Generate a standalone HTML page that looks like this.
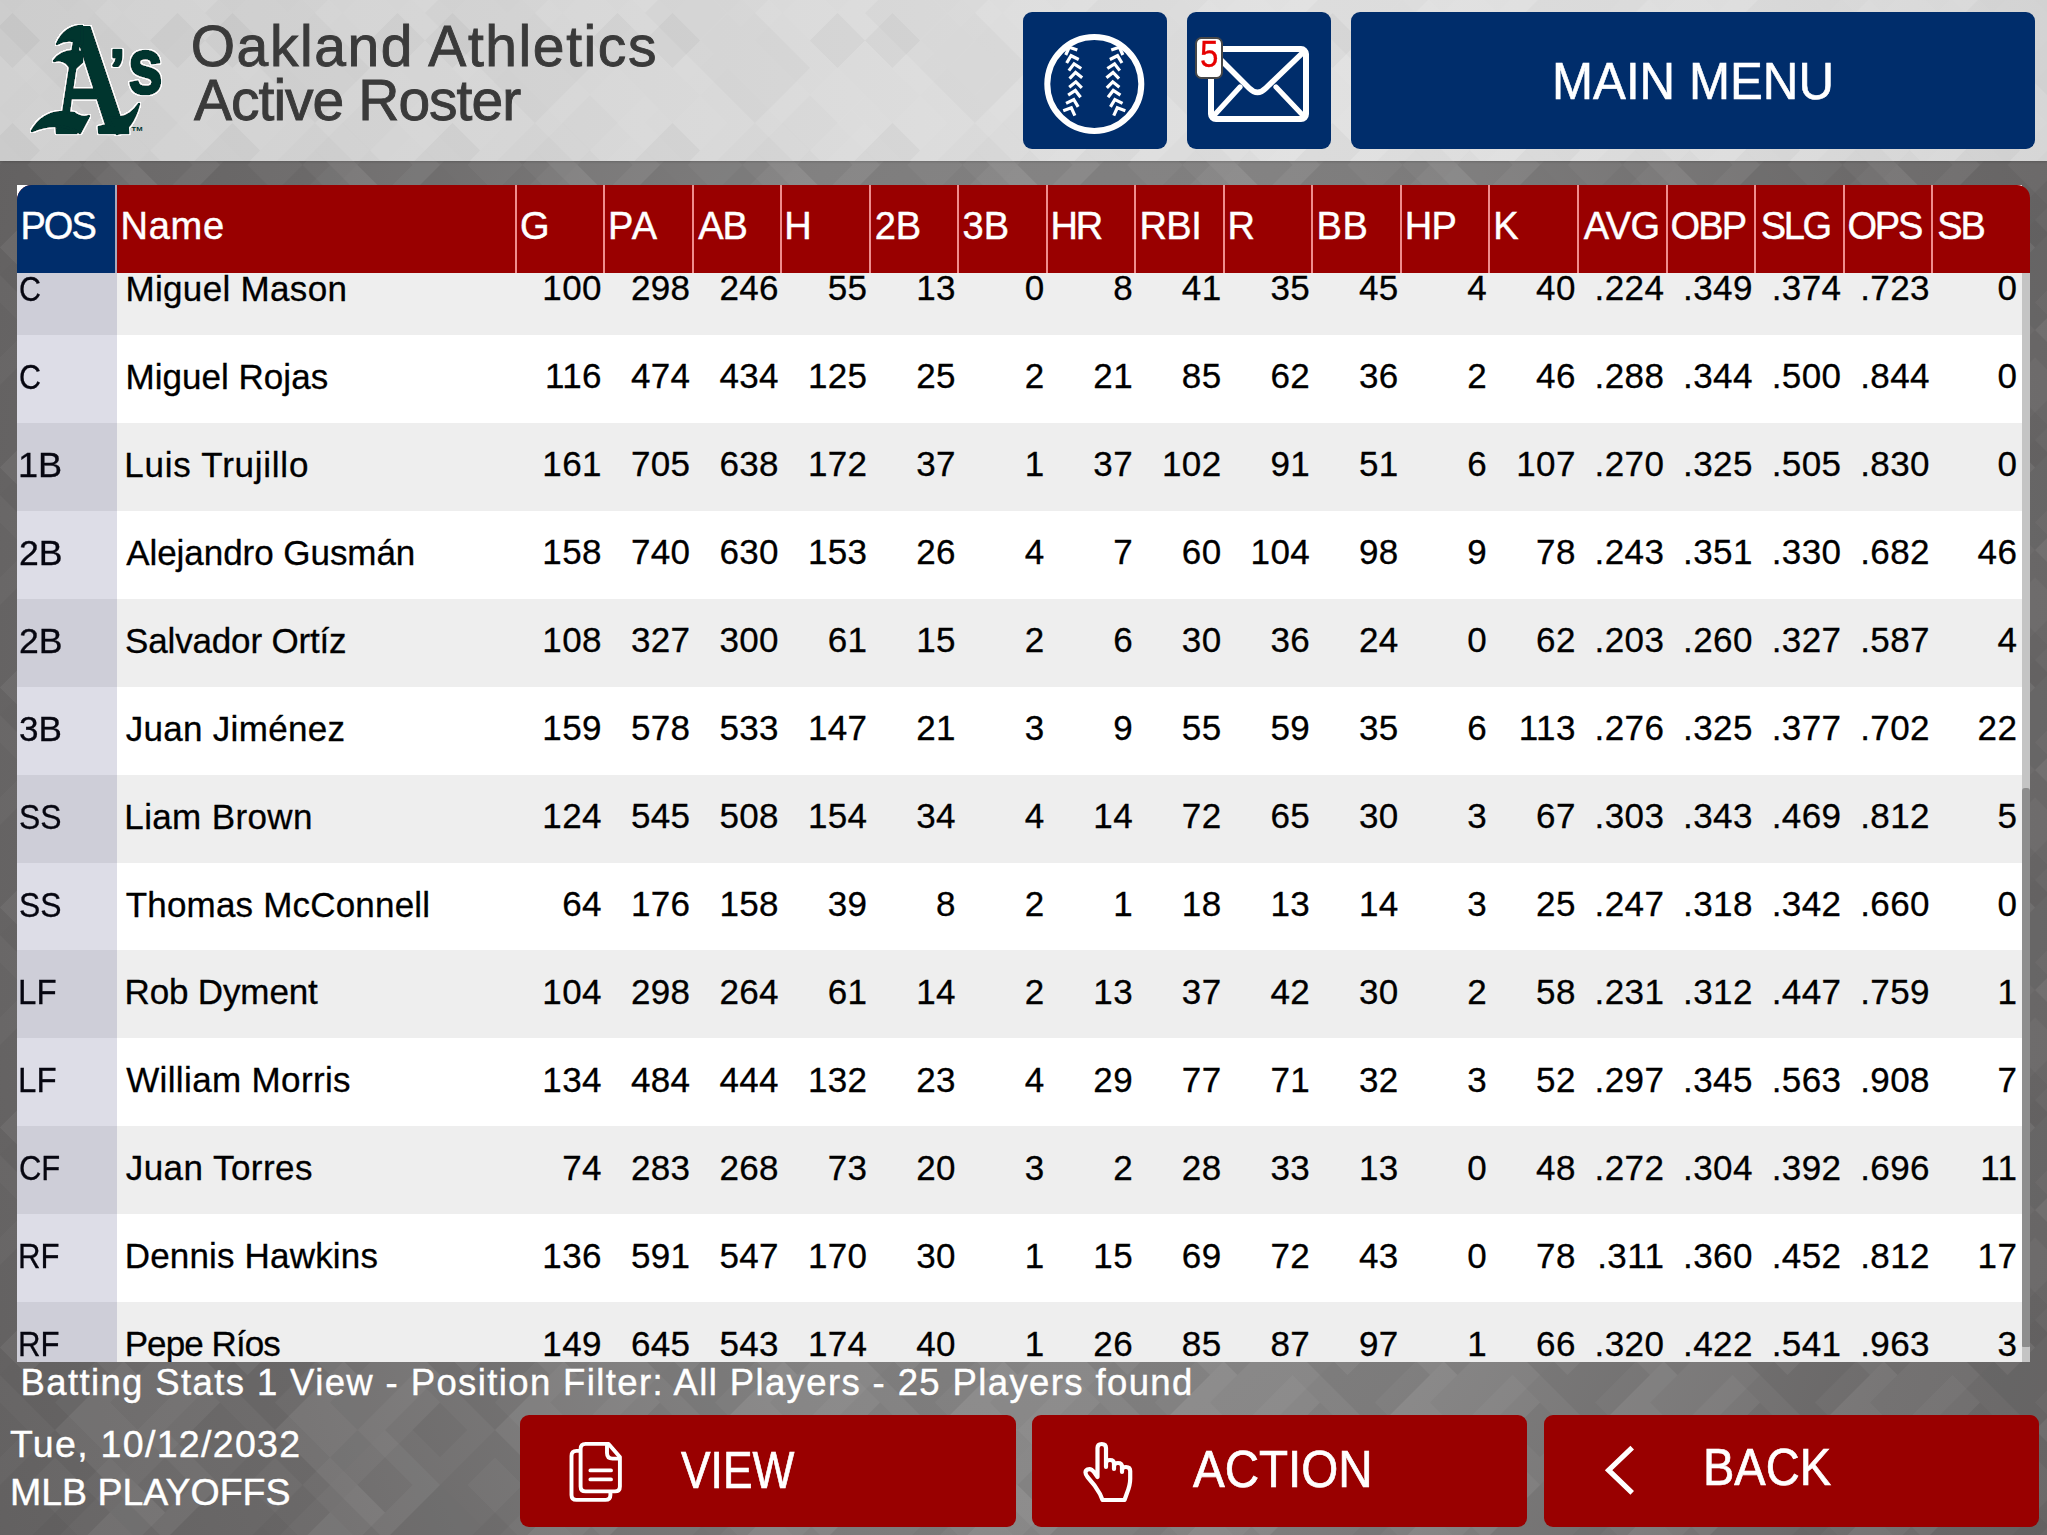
<!DOCTYPE html>
<html lang="en">
<head>
<meta charset="utf-8">
<title>Oakland Athletics - Active Roster</title>
<style>
html,body{margin:0;padding:0}
body{width:2047px;height:1535px;position:relative;overflow:hidden;
 font-family:"Liberation Sans",sans-serif;
 background:#727272;}
.t{position:absolute;white-space:nowrap;display:block}
.bg{position:absolute;left:0;top:0;width:2047px;height:1535px;
 background:
  radial-gradient(ellipse 1250px 2000px at 1090px 800px,#8e8d8d 0%,#838282 38%,#6f6d6d 70%,#656363 100%);}
.topbar{position:absolute;left:0;top:0;width:2047px;height:161px;
 background:
  linear-gradient(90deg,#d0d0d0 0%,#d6d6d6 25%,#dcdcdc 45%,#e1e1e1 64%,#dddddd 85%,#d6d6d6 100%);
 box-shadow:0 1px 2px rgba(0,0,0,0.18);}
.logo{position:absolute;left:0;top:0}
.pat{position:absolute;left:0;top:0}
.title{color:#3a3a3a;-webkit-text-stroke:0.9px #3a3a3a}
.nbtn{position:absolute;top:12px;height:136.5px;background:#002d6b;border-radius:9px;color:#fff;-webkit-text-stroke:0.6px #fff}
.nbtn svg{position:absolute;left:0;top:0}
.badge{position:absolute;left:8.4px;top:24.6px;width:27.4px;height:42.8px;background:#fff;border:2.2px solid #484848;border-radius:6.5px;color:#e60000;box-sizing:border-box;-webkit-text-stroke:0.3px #e60000}
.badge span{position:absolute;left:2.6px;top:-1.6px;font-size:36px;line-height:36px;transform:scaleX(0.92);transform-origin:0 0}

.tbl{position:absolute;left:17px;top:185px;width:2013px;height:1176.5px}
.tblbg{position:absolute;left:0;top:0;width:2005px;height:1176.5px;background:#fff}
.tbody{position:absolute;left:0;top:87.5px;width:2005px;height:1089px;background:#fff;overflow:hidden}
.r{position:absolute;left:0;width:2005px;height:88px;background:#fff;font-size:35px;line-height:88px;color:#000;white-space:nowrap;-webkit-text-stroke:0.3px #000}
.r.odd{background:#eeeeee}
.r .s{position:absolute;top:-2.55px;height:88px;width:90px;text-align:right;letter-spacing:0.4px;margin-left:0.4px}
.poscol{position:absolute;left:0;top:0;width:99.5px;height:1100px;background:rgba(40,40,100,0.155)}
.sbtrack{position:absolute;left:2004.7px;top:87.5px;width:8.3px;height:1089px;background:#c4c4c4}
.sbthumb{position:absolute;left:2005.3px;top:602.6px;width:7.7px;height:559.5px;background:#8d8d8d;border-radius:3px 3px 1px 1px}
.thead{position:absolute;left:0;top:0;width:2013px;height:87.5px;background:#990000;border-radius:15px 13px 0 0;overflow:hidden;color:#fff;-webkit-text-stroke:0.45px #fff}
.thead:before{content:"";}
.hpos{position:absolute;left:0;top:0;width:99px;height:88px;background:#002d6b}
.hsep{position:absolute;top:0;width:2px;height:88px;background:#ee8d8d}
.white{color:#fff;-webkit-text-stroke:0.4px #fff}
.hsep.first{background:#a9a9bb}
.rbtn{position:absolute;top:1415px;width:495.5px;height:111.5px;background:#990000;border-radius:9px;color:#fff;-webkit-text-stroke:0.7px #fff}
.rbtn svg{position:absolute;left:0;top:0}

</style>
</head>
<body>
<div class="bg"></div>
<div class="topbar"></div>
<svg class="pat" width="2047" height="1535"><defs><pattern id="dm" width="220" height="220" patternUnits="userSpaceOnUse"><path d="M0.0 82.5L27.5 110.0L0.0 137.5L-27.5 110.0Z" fill="#000" fill-opacity="0.030"/><path d="M220.0 82.5L247.5 110.0L220.0 137.5L192.5 110.0Z" fill="#000" fill-opacity="0.030"/><path d="M27.5 0.0L55.0 27.5L27.5 55.0L0.0 27.5Z" fill="#fff" fill-opacity="0.060"/><path d="M55.0 -27.5L82.5 0.0L55.0 27.5L27.5 0.0Z" fill="#000" fill-opacity="0.030"/><path d="M55.0 192.5L82.5 220.0L55.0 247.5L27.5 220.0Z" fill="#000" fill-opacity="0.030"/><path d="M55.0 137.5L82.5 165.0L55.0 192.5L27.5 165.0Z" fill="#fff" fill-opacity="0.030"/><path d="M82.5 55.0L110.0 82.5L82.5 110.0L55.0 82.5Z" fill="#fff" fill-opacity="0.030"/><path d="M110.0 -27.5L137.5 0.0L110.0 27.5L82.5 0.0Z" fill="#fff" fill-opacity="0.060"/><path d="M110.0 192.5L137.5 220.0L110.0 247.5L82.5 220.0Z" fill="#fff" fill-opacity="0.060"/><path d="M110.0 27.5L137.5 55.0L110.0 82.5L82.5 55.0Z" fill="#fff" fill-opacity="0.030"/><path d="M110.0 82.5L137.5 110.0L110.0 137.5L82.5 110.0Z" fill="#fff" fill-opacity="0.030"/><path d="M110.0 137.5L137.5 165.0L110.0 192.5L82.5 165.0Z" fill="#fff" fill-opacity="0.030"/><path d="M137.5 0.0L165.0 27.5L137.5 55.0L110.0 27.5Z" fill="#000" fill-opacity="0.045"/><path d="M137.5 165.0L165.0 192.5L137.5 220.0L110.0 192.5Z" fill="#fff" fill-opacity="0.045"/><path d="M165.0 82.5L192.5 110.0L165.0 137.5L137.5 110.0Z" fill="#fff" fill-opacity="0.030"/><path d="M165.0 137.5L192.5 165.0L165.0 192.5L137.5 165.0Z" fill="#000" fill-opacity="0.045"/><path d="M192.5 55.0L220.0 82.5L192.5 110.0L165.0 82.5Z" fill="#fff" fill-opacity="0.030"/><path d="M55 0L110 55L55 110L0 55Z" fill="#000" fill-opacity="0.050"/><path d="M165 110L220 165L165 220L110 165Z" fill="#fff" fill-opacity="0.040"/><path d="M165 0L220 55L165 110L110 55Z" fill="#fff" fill-opacity="0.030"/><path d="M55 110L110 165L55 220L0 165Z" fill="#000" fill-opacity="0.035"/><path d="M110 55L165 110L110 165L55 110Z" fill="#fff" fill-opacity="0.030"/><path d="M0 -55L55 0L0 55L-55 0Z" fill="#000" fill-opacity="0.040"/><path d="M220 -55L275 0L220 55L165 0Z" fill="#000" fill-opacity="0.040"/><path d="M0 165L55 220L0 275L-55 220Z" fill="#000" fill-opacity="0.040"/><path d="M220 165L275 220L220 275L165 220Z" fill="#000" fill-opacity="0.040"/></pattern><pattern id="dm2" width="220" height="220" patternUnits="userSpaceOnUse" patternTransform="translate(40 13)"><path d="M0.0 -27.5L27.5 0.0L0.0 27.5L-27.5 0.0Z" fill="#fff" fill-opacity="0.020"/><path d="M0.0 192.5L27.5 220.0L0.0 247.5L-27.5 220.0Z" fill="#fff" fill-opacity="0.020"/><path d="M220.0 -27.5L247.5 0.0L220.0 27.5L192.5 0.0Z" fill="#fff" fill-opacity="0.020"/><path d="M220.0 192.5L247.5 220.0L220.0 247.5L192.5 220.0Z" fill="#fff" fill-opacity="0.020"/><path d="M0.0 27.5L27.5 55.0L0.0 82.5L-27.5 55.0Z" fill="#fff" fill-opacity="0.027"/><path d="M220.0 27.5L247.5 55.0L220.0 82.5L192.5 55.0Z" fill="#fff" fill-opacity="0.027"/><path d="M0.0 82.5L27.5 110.0L0.0 137.5L-27.5 110.0Z" fill="#fff" fill-opacity="0.020"/><path d="M220.0 82.5L247.5 110.0L220.0 137.5L192.5 110.0Z" fill="#fff" fill-opacity="0.020"/><path d="M27.5 0.0L55.0 27.5L27.5 55.0L0.0 27.5Z" fill="#fff" fill-opacity="0.020"/><path d="M27.5 165.0L55.0 192.5L27.5 220.0L0.0 192.5Z" fill="#fff" fill-opacity="0.013"/><path d="M55.0 -27.5L82.5 0.0L55.0 27.5L27.5 0.0Z" fill="#fff" fill-opacity="0.027"/><path d="M55.0 192.5L82.5 220.0L55.0 247.5L27.5 220.0Z" fill="#fff" fill-opacity="0.027"/><path d="M55.0 27.5L82.5 55.0L55.0 82.5L27.5 55.0Z" fill="#fff" fill-opacity="0.020"/><path d="M55.0 137.5L82.5 165.0L55.0 192.5L27.5 165.0Z" fill="#000" fill-opacity="0.013"/><path d="M82.5 55.0L110.0 82.5L82.5 110.0L55.0 82.5Z" fill="#fff" fill-opacity="0.020"/><path d="M82.5 110.0L110.0 137.5L82.5 165.0L55.0 137.5Z" fill="#000" fill-opacity="0.013"/><path d="M110.0 -27.5L137.5 0.0L110.0 27.5L82.5 0.0Z" fill="#fff" fill-opacity="0.020"/><path d="M110.0 192.5L137.5 220.0L110.0 247.5L82.5 220.0Z" fill="#fff" fill-opacity="0.020"/><path d="M110.0 82.5L137.5 110.0L110.0 137.5L82.5 110.0Z" fill="#000" fill-opacity="0.013"/><path d="M110.0 137.5L137.5 165.0L110.0 192.5L82.5 165.0Z" fill="#000" fill-opacity="0.020"/><path d="M137.5 0.0L165.0 27.5L137.5 55.0L110.0 27.5Z" fill="#000" fill-opacity="0.027"/><path d="M137.5 55.0L165.0 82.5L137.5 110.0L110.0 82.5Z" fill="#fff" fill-opacity="0.013"/><path d="M137.5 165.0L165.0 192.5L137.5 220.0L110.0 192.5Z" fill="#fff" fill-opacity="0.013"/><path d="M165.0 -27.5L192.5 0.0L165.0 27.5L137.5 0.0Z" fill="#fff" fill-opacity="0.020"/><path d="M165.0 192.5L192.5 220.0L165.0 247.5L137.5 220.0Z" fill="#fff" fill-opacity="0.020"/><path d="M165.0 82.5L192.5 110.0L165.0 137.5L137.5 110.0Z" fill="#fff" fill-opacity="0.027"/><path d="M165.0 137.5L192.5 165.0L165.0 192.5L137.5 165.0Z" fill="#000" fill-opacity="0.027"/><path d="M192.5 0.0L220.0 27.5L192.5 55.0L165.0 27.5Z" fill="#000" fill-opacity="0.027"/><path d="M192.5 110.0L220.0 137.5L192.5 165.0L165.0 137.5Z" fill="#000" fill-opacity="0.027"/><path d="M55 0L110 55L55 110L0 55Z" fill="#000" fill-opacity="0.023"/><path d="M165 110L220 165L165 220L110 165Z" fill="#fff" fill-opacity="0.018"/><path d="M165 0L220 55L165 110L110 55Z" fill="#fff" fill-opacity="0.013"/><path d="M55 110L110 165L55 220L0 165Z" fill="#000" fill-opacity="0.016"/><path d="M110 55L165 110L110 165L55 110Z" fill="#fff" fill-opacity="0.013"/><path d="M0 -55L55 0L0 55L-55 0Z" fill="#000" fill-opacity="0.018"/><path d="M220 -55L275 0L220 55L165 0Z" fill="#000" fill-opacity="0.018"/><path d="M0 165L55 220L0 275L-55 220Z" fill="#000" fill-opacity="0.018"/><path d="M220 165L275 220L220 275L165 220Z" fill="#000" fill-opacity="0.018"/></pattern></defs><rect x="0" y="161" width="2047" height="1374" fill="url(#dm)"/><rect x="0" y="0" width="2047" height="161" fill="url(#dm2)"/></svg>
<svg class="logo" width="190" height="160" viewBox="0 0 190 160">
 <filter id="wo" x="-10%" y="-10%" width="120%" height="120%">
  <feMorphology in="SourceAlpha" operator="dilate" radius="1.3" result="d"/>
  <feGaussianBlur in="d" stdDeviation="0.45" result="db"/>
  <feComponentTransfer in="db" result="dc"><feFuncA type="linear" slope="3" intercept="-0.6"/></feComponentTransfer>
  <feFlood flood-color="#fff"/>
  <feComposite in2="dc" operator="in" result="w"/>
  <feMerge><feMergeNode in="w"/><feMergeNode in="SourceGraphic"/></feMerge>
 </filter>
 <g filter="url(#wo)" fill="#00342e" stroke="#00342e" stroke-width="2.6" stroke-linejoin="round">
   <text x="0" y="0" font-family="Liberation Serif, serif" font-weight="bold" font-size="160" transform="translate(55.5 132.5) skewX(5.2) scale(0.64 1)">A</text>
   <text x="109.5" y="88" font-family="Liberation Sans, sans-serif" font-weight="bold" font-size="56">’</text>
   <text x="128" y="93.2" font-family="Liberation Sans, sans-serif" font-weight="bold" font-size="78" transform="translate(128 0) scale(0.8 1) translate(-128 0)">s</text>
   <path d="M82 26 Q65 26 57 44 Q69 37 82 44 Z"/>
   <path d="M82 52 Q63 48 54 61 Q66 57 72 71 L82 62 Z"/>
   <path d="M32 131 Q42 113 62 112 L74 113 Q82 119 89 116 L80 133 Q58 120 32 131 Z"/>
   <path d="M108 118 L117 134 Q132 130 139 104 Q131 116 121 117 Z"/>
  </g>
 <text x="131.5" y="131.3" font-family="Liberation Sans, sans-serif" font-weight="bold" font-size="5.2" fill="#00342e" textLength="11" lengthAdjust="spacingAndGlyphs">TM</text>
</svg>
<div class="title"><span class="t " style="left:190.7px;top:18.4px;font-size:57px;line-height:57px;letter-spacing:1.58px;">Oakland Athletics</span><span class="t " style="left:194.0px;top:71.6px;font-size:57px;line-height:57px;letter-spacing:-0.98px;">Active Roster</span></div>
<div class="nbtn" style="left:1023px;width:144px">
 <svg width="144" height="137" viewBox="0 0 144 137">
  <circle cx="71.3" cy="72" r="47" fill="none" stroke="#fff" stroke-width="6"/>
  <g fill="none" stroke="#fff" stroke-width="3.2" stroke-linecap="butt" stroke-linejoin="miter"><path d="M-6.3 3.2 L0 -2.6 L6.3 3.2" transform="translate(47.3 37.6) rotate(-22.8)"/><path d="M-6.3 3.2 L0 -2.6 L6.3 3.2" transform="translate(48.8 46.2) rotate(-16.2)"/><path d="M-6.3 3.2 L0 -2.6 L6.3 3.2" transform="translate(51.5 54.4) rotate(-9.8)"/><path d="M-6.3 3.2 L0 -2.6 L6.3 3.2" transform="translate(52.7 63.0) rotate(-3.2)"/><path d="M-6.3 3.2 L0 -2.6 L6.3 3.2" transform="translate(52.7 72.4) rotate(3.2)"/><path d="M-6.3 3.2 L0 -2.6 L6.3 3.2" transform="translate(51.9 81.0) rotate(9.8)"/><path d="M-6.3 3.2 L0 -2.6 L6.3 3.2" transform="translate(50.0 90.0) rotate(16.2)"/><path d="M-6.3 3.2 L0 -2.6 L6.3 3.2" transform="translate(47.3 98.2) rotate(22.8)"/><path d="M-6.3 3.2 L0 -2.6 L6.3 3.2" transform="translate(95.3 37.6) rotate(22.8)"/><path d="M-6.3 3.2 L0 -2.6 L6.3 3.2" transform="translate(93.8 46.2) rotate(16.2)"/><path d="M-6.3 3.2 L0 -2.6 L6.3 3.2" transform="translate(91.1 54.4) rotate(9.8)"/><path d="M-6.3 3.2 L0 -2.6 L6.3 3.2" transform="translate(89.9 63.0) rotate(3.2)"/><path d="M-6.3 3.2 L0 -2.6 L6.3 3.2" transform="translate(89.9 72.4) rotate(-3.2)"/><path d="M-6.3 3.2 L0 -2.6 L6.3 3.2" transform="translate(90.7 81.0) rotate(-9.8)"/><path d="M-6.3 3.2 L0 -2.6 L6.3 3.2" transform="translate(92.6 90.0) rotate(-16.2)"/><path d="M-6.3 3.2 L0 -2.6 L6.3 3.2" transform="translate(95.3 98.2) rotate(-22.8)"/></g>
 </svg>
</div>
<div class="nbtn" style="left:1187px;width:144px">
 <svg width="144" height="137" viewBox="0 0 144 137">
  <g fill="none" stroke="#fff" stroke-width="6" stroke-linejoin="round" stroke-linecap="round">
   <rect x="24" y="37.1" width="95" height="70" rx="5"/>
   <path d="M25.5 39.5 L62 76 Q70.5 84.5 79 76 L117 39.5" stroke-width="5.6"/>
   <path d="M26.5 104 L53 75 M116.5 104 L89 75" stroke-width="5.2"/>
  </g>
 </svg>
 <div class="badge"><span>5</span></div>
</div>
<div class="nbtn" style="left:1351px;width:684px"><span class="t " style="left:200.8px;top:42.8px;font-size:52px;line-height:52px;transform:scaleX(0.9477);transform-origin:0 0;">MAIN MENU</span></div>
<div class="tbl">
<div class="tblbg"></div>
<div class="tbody">
<div class="r odd" style="top:-25.5px"><span class="t " style="left:2.1px;top:24.0px;font-size:35px;line-height:35px;transform:scaleX(0.8697);transform-origin:0 0;">C</span><span class="t " style="left:108.5px;top:24.0px;font-size:35px;line-height:35px;letter-spacing:0.32px;">Miguel Mason</span><span class="s" style="left:494.5px">100</span><span class="s" style="left:583.1px">298</span><span class="s" style="left:671.6px">246</span><span class="s" style="left:760.1px">55</span><span class="s" style="left:848.6px">13</span><span class="s" style="left:937.2px">0</span><span class="s" style="left:1025.7px">8</span><span class="s" style="left:1114.2px">41</span><span class="s" style="left:1202.8px">35</span><span class="s" style="left:1291.3px">45</span><span class="s" style="left:1379.8px">4</span><span class="s" style="left:1468.4px">40</span><span class="s" style="left:1556.9px">.224</span><span class="s" style="left:1645.4px">.349</span><span class="s" style="left:1734.0px">.374</span><span class="s" style="left:1822.5px">.723</span><span class="s" style="left:1909.9px">0</span></div>
<div class="r" style="top:62.4px"><span class="t " style="left:2.1px;top:24.0px;font-size:35px;line-height:35px;transform:scaleX(0.8697);transform-origin:0 0;">C</span><span class="t " style="left:108.5px;top:24.0px;font-size:35px;line-height:35px;letter-spacing:0.03px;">Miguel Rojas</span><span class="s" style="left:494.5px">116</span><span class="s" style="left:583.1px">474</span><span class="s" style="left:671.6px">434</span><span class="s" style="left:760.1px">125</span><span class="s" style="left:848.6px">25</span><span class="s" style="left:937.2px">2</span><span class="s" style="left:1025.7px">21</span><span class="s" style="left:1114.2px">85</span><span class="s" style="left:1202.8px">62</span><span class="s" style="left:1291.3px">36</span><span class="s" style="left:1379.8px">2</span><span class="s" style="left:1468.4px">46</span><span class="s" style="left:1556.9px">.288</span><span class="s" style="left:1645.4px">.344</span><span class="s" style="left:1734.0px">.500</span><span class="s" style="left:1822.5px">.844</span><span class="s" style="left:1909.9px">0</span></div>
<div class="r odd" style="top:150.3px"><span class="t " style="left:1.2px;top:24.0px;font-size:35px;line-height:35px;transform:scaleX(1.0319);transform-origin:0 0;">1B</span><span class="t " style="left:107.3px;top:24.0px;font-size:35px;line-height:35px;letter-spacing:0.75px;">Luis Trujillo</span><span class="s" style="left:494.5px">161</span><span class="s" style="left:583.1px">705</span><span class="s" style="left:671.6px">638</span><span class="s" style="left:760.1px">172</span><span class="s" style="left:848.6px">37</span><span class="s" style="left:937.2px">1</span><span class="s" style="left:1025.7px">37</span><span class="s" style="left:1114.2px">102</span><span class="s" style="left:1202.8px">91</span><span class="s" style="left:1291.3px">51</span><span class="s" style="left:1379.8px">6</span><span class="s" style="left:1468.4px">107</span><span class="s" style="left:1556.9px">.270</span><span class="s" style="left:1645.4px">.325</span><span class="s" style="left:1734.0px">.505</span><span class="s" style="left:1822.5px">.830</span><span class="s" style="left:1909.9px">0</span></div>
<div class="r" style="top:238.3px"><span class="t " style="left:1.8px;top:24.0px;font-size:35px;line-height:35px;transform:scaleX(1.0176);transform-origin:0 0;">2B</span><span class="t " style="left:109.2px;top:24.0px;font-size:35px;line-height:35px;letter-spacing:-0.05px;">Alejandro Gusmán</span><span class="s" style="left:494.5px">158</span><span class="s" style="left:583.1px">740</span><span class="s" style="left:671.6px">630</span><span class="s" style="left:760.1px">153</span><span class="s" style="left:848.6px">26</span><span class="s" style="left:937.2px">4</span><span class="s" style="left:1025.7px">7</span><span class="s" style="left:1114.2px">60</span><span class="s" style="left:1202.8px">104</span><span class="s" style="left:1291.3px">98</span><span class="s" style="left:1379.8px">9</span><span class="s" style="left:1468.4px">78</span><span class="s" style="left:1556.9px">.243</span><span class="s" style="left:1645.4px">.351</span><span class="s" style="left:1734.0px">.330</span><span class="s" style="left:1822.5px">.682</span><span class="s" style="left:1909.9px">46</span></div>
<div class="r odd" style="top:326.2px"><span class="t " style="left:1.8px;top:24.0px;font-size:35px;line-height:35px;transform:scaleX(1.0176);transform-origin:0 0;">2B</span><span class="t " style="left:108.1px;top:24.0px;font-size:35px;line-height:35px;letter-spacing:-0.17px;">Salvador Ortíz</span><span class="s" style="left:494.5px">108</span><span class="s" style="left:583.1px">327</span><span class="s" style="left:671.6px">300</span><span class="s" style="left:760.1px">61</span><span class="s" style="left:848.6px">15</span><span class="s" style="left:937.2px">2</span><span class="s" style="left:1025.7px">6</span><span class="s" style="left:1114.2px">30</span><span class="s" style="left:1202.8px">36</span><span class="s" style="left:1291.3px">24</span><span class="s" style="left:1379.8px">0</span><span class="s" style="left:1468.4px">62</span><span class="s" style="left:1556.9px">.203</span><span class="s" style="left:1645.4px">.260</span><span class="s" style="left:1734.0px">.327</span><span class="s" style="left:1822.5px">.587</span><span class="s" style="left:1909.9px">4</span></div>
<div class="r" style="top:414.1px"><span class="t " style="left:2.4px;top:24.0px;font-size:35px;line-height:35px;transform:scaleX(1.0038);transform-origin:0 0;">3B</span><span class="t " style="left:108.7px;top:24.0px;font-size:35px;line-height:35px;letter-spacing:0.30px;">Juan Jiménez</span><span class="s" style="left:494.5px">159</span><span class="s" style="left:583.1px">578</span><span class="s" style="left:671.6px">533</span><span class="s" style="left:760.1px">147</span><span class="s" style="left:848.6px">21</span><span class="s" style="left:937.2px">3</span><span class="s" style="left:1025.7px">9</span><span class="s" style="left:1114.2px">55</span><span class="s" style="left:1202.8px">59</span><span class="s" style="left:1291.3px">35</span><span class="s" style="left:1379.8px">6</span><span class="s" style="left:1468.4px">113</span><span class="s" style="left:1556.9px">.276</span><span class="s" style="left:1645.4px">.325</span><span class="s" style="left:1734.0px">.377</span><span class="s" style="left:1822.5px">.702</span><span class="s" style="left:1909.9px">22</span></div>
<div class="r odd" style="top:502.1px"><span class="t " style="left:2.4px;top:24.0px;font-size:35px;line-height:35px;transform:scaleX(0.9110);transform-origin:0 0;">SS</span><span class="t " style="left:107.3px;top:24.0px;font-size:35px;line-height:35px;letter-spacing:0.37px;">Liam Brown</span><span class="s" style="left:494.5px">124</span><span class="s" style="left:583.1px">545</span><span class="s" style="left:671.6px">508</span><span class="s" style="left:760.1px">154</span><span class="s" style="left:848.6px">34</span><span class="s" style="left:937.2px">4</span><span class="s" style="left:1025.7px">14</span><span class="s" style="left:1114.2px">72</span><span class="s" style="left:1202.8px">65</span><span class="s" style="left:1291.3px">30</span><span class="s" style="left:1379.8px">3</span><span class="s" style="left:1468.4px">67</span><span class="s" style="left:1556.9px">.303</span><span class="s" style="left:1645.4px">.343</span><span class="s" style="left:1734.0px">.469</span><span class="s" style="left:1822.5px">.812</span><span class="s" style="left:1909.9px">5</span></div>
<div class="r" style="top:590.0px"><span class="t " style="left:2.4px;top:24.0px;font-size:35px;line-height:35px;transform:scaleX(0.9110);transform-origin:0 0;">SS</span><span class="t " style="left:108.7px;top:24.0px;font-size:35px;line-height:35px;letter-spacing:0.19px;">Thomas McConnell</span><span class="s" style="left:494.5px">64</span><span class="s" style="left:583.1px">176</span><span class="s" style="left:671.6px">158</span><span class="s" style="left:760.1px">39</span><span class="s" style="left:848.6px">8</span><span class="s" style="left:937.2px">2</span><span class="s" style="left:1025.7px">1</span><span class="s" style="left:1114.2px">18</span><span class="s" style="left:1202.8px">13</span><span class="s" style="left:1291.3px">14</span><span class="s" style="left:1379.8px">3</span><span class="s" style="left:1468.4px">25</span><span class="s" style="left:1556.9px">.247</span><span class="s" style="left:1645.4px">.318</span><span class="s" style="left:1734.0px">.342</span><span class="s" style="left:1822.5px">.660</span><span class="s" style="left:1909.9px">0</span></div>
<div class="r odd" style="top:677.9px"><span class="t " style="left:1.4px;top:24.0px;font-size:35px;line-height:35px;transform:scaleX(0.9441);transform-origin:0 0;">LF</span><span class="t " style="left:107.5px;top:24.0px;font-size:35px;line-height:35px;letter-spacing:-0.14px;">Rob Dyment</span><span class="s" style="left:494.5px">104</span><span class="s" style="left:583.1px">298</span><span class="s" style="left:671.6px">264</span><span class="s" style="left:760.1px">61</span><span class="s" style="left:848.6px">14</span><span class="s" style="left:937.2px">2</span><span class="s" style="left:1025.7px">13</span><span class="s" style="left:1114.2px">37</span><span class="s" style="left:1202.8px">42</span><span class="s" style="left:1291.3px">30</span><span class="s" style="left:1379.8px">2</span><span class="s" style="left:1468.4px">58</span><span class="s" style="left:1556.9px">.231</span><span class="s" style="left:1645.4px">.312</span><span class="s" style="left:1734.0px">.447</span><span class="s" style="left:1822.5px">.759</span><span class="s" style="left:1909.9px">1</span></div>
<div class="r" style="top:765.8px"><span class="t " style="left:1.4px;top:24.0px;font-size:35px;line-height:35px;transform:scaleX(0.9441);transform-origin:0 0;">LF</span><span class="t " style="left:109.2px;top:24.0px;font-size:35px;line-height:35px;letter-spacing:0.36px;">William Morris</span><span class="s" style="left:494.5px">134</span><span class="s" style="left:583.1px">484</span><span class="s" style="left:671.6px">444</span><span class="s" style="left:760.1px">132</span><span class="s" style="left:848.6px">23</span><span class="s" style="left:937.2px">4</span><span class="s" style="left:1025.7px">29</span><span class="s" style="left:1114.2px">77</span><span class="s" style="left:1202.8px">71</span><span class="s" style="left:1291.3px">32</span><span class="s" style="left:1379.8px">3</span><span class="s" style="left:1468.4px">52</span><span class="s" style="left:1556.9px">.297</span><span class="s" style="left:1645.4px">.345</span><span class="s" style="left:1734.0px">.563</span><span class="s" style="left:1822.5px">.908</span><span class="s" style="left:1909.9px">7</span></div>
<div class="r odd" style="top:853.8px"><span class="t " style="left:1.9px;top:24.0px;font-size:35px;line-height:35px;transform:scaleX(0.8844);transform-origin:0 0;">CF</span><span class="t " style="left:108.7px;top:24.0px;font-size:35px;line-height:35px;letter-spacing:0.45px;">Juan Torres</span><span class="s" style="left:494.5px">74</span><span class="s" style="left:583.1px">283</span><span class="s" style="left:671.6px">268</span><span class="s" style="left:760.1px">73</span><span class="s" style="left:848.6px">20</span><span class="s" style="left:937.2px">3</span><span class="s" style="left:1025.7px">2</span><span class="s" style="left:1114.2px">28</span><span class="s" style="left:1202.8px">33</span><span class="s" style="left:1291.3px">13</span><span class="s" style="left:1379.8px">0</span><span class="s" style="left:1468.4px">48</span><span class="s" style="left:1556.9px">.272</span><span class="s" style="left:1645.4px">.304</span><span class="s" style="left:1734.0px">.392</span><span class="s" style="left:1822.5px">.696</span><span class="s" style="left:1909.9px">11</span></div>
<div class="r" style="top:941.7px"><span class="t " style="left:1.1px;top:24.0px;font-size:35px;line-height:35px;transform:scaleX(0.8907);transform-origin:0 0;">RF</span><span class="t " style="left:107.7px;top:24.0px;font-size:35px;line-height:35px;letter-spacing:0.18px;">Dennis Hawkins</span><span class="s" style="left:494.5px">136</span><span class="s" style="left:583.1px">591</span><span class="s" style="left:671.6px">547</span><span class="s" style="left:760.1px">170</span><span class="s" style="left:848.6px">30</span><span class="s" style="left:937.2px">1</span><span class="s" style="left:1025.7px">15</span><span class="s" style="left:1114.2px">69</span><span class="s" style="left:1202.8px">72</span><span class="s" style="left:1291.3px">43</span><span class="s" style="left:1379.8px">0</span><span class="s" style="left:1468.4px">78</span><span class="s" style="left:1556.9px">.311</span><span class="s" style="left:1645.4px">.360</span><span class="s" style="left:1734.0px">.452</span><span class="s" style="left:1822.5px">.812</span><span class="s" style="left:1909.9px">17</span></div>
<div class="r odd" style="top:1029.6px"><span class="t " style="left:1.1px;top:24.0px;font-size:35px;line-height:35px;transform:scaleX(0.8907);transform-origin:0 0;">RF</span><span class="t " style="left:107.7px;top:24.0px;font-size:35px;line-height:35px;letter-spacing:-0.91px;">Pepe Ríos</span><span class="s" style="left:494.5px">149</span><span class="s" style="left:583.1px">645</span><span class="s" style="left:671.6px">543</span><span class="s" style="left:760.1px">174</span><span class="s" style="left:848.6px">40</span><span class="s" style="left:937.2px">1</span><span class="s" style="left:1025.7px">26</span><span class="s" style="left:1114.2px">85</span><span class="s" style="left:1202.8px">87</span><span class="s" style="left:1291.3px">97</span><span class="s" style="left:1379.8px">1</span><span class="s" style="left:1468.4px">66</span><span class="s" style="left:1556.9px">.320</span><span class="s" style="left:1645.4px">.422</span><span class="s" style="left:1734.0px">.541</span><span class="s" style="left:1822.5px">.963</span><span class="s" style="left:1909.9px">3</span></div>
<div class="poscol"></div>
</div>
<div class="sbtrack"></div><div class="sbthumb"></div>
<div class="thead">
<div class="hpos"></div>
<div class="hsep first" style="left:98.2px"></div><div class="hsep" style="left:497.6px"></div><div class="hsep" style="left:586.1px"></div><div class="hsep" style="left:674.7px"></div><div class="hsep" style="left:763.2px"></div><div class="hsep" style="left:851.7px"></div><div class="hsep" style="left:940.2px"></div><div class="hsep" style="left:1028.8px"></div><div class="hsep" style="left:1117.3px"></div><div class="hsep" style="left:1205.8px"></div><div class="hsep" style="left:1294.4px"></div><div class="hsep" style="left:1382.9px"></div><div class="hsep" style="left:1471.4px"></div><div class="hsep" style="left:1560.0px"></div><div class="hsep" style="left:1648.5px"></div><div class="hsep" style="left:1737.0px"></div><div class="hsep" style="left:1825.6px"></div><div class="hsep" style="left:1914.1px"></div>
<span class="t " style="left:3.4px;top:22.2px;font-size:38px;line-height:38px;letter-spacing:-1.94px;">POS</span>
<span class="t " style="left:103.5px;top:22.2px;font-size:38px;line-height:38px;letter-spacing:0.75px;">Name</span>
<span class="t " style="left:503.1px;top:22.2px;font-size:38px;line-height:38px;letter-spacing:0.00px;">G</span>
<span class="t " style="left:591.0px;top:22.2px;font-size:38px;line-height:38px;letter-spacing:1.21px;">PA</span>
<span class="t " style="left:681.3px;top:22.2px;font-size:38px;line-height:38px;letter-spacing:-1.20px;">AB</span>
<span class="t " style="left:767.2px;top:22.2px;font-size:38px;line-height:38px;letter-spacing:0.00px;">H</span>
<span class="t " style="left:857.8px;top:22.2px;font-size:38px;line-height:38px;letter-spacing:-0.10px;">2B</span>
<span class="t " style="left:945.4px;top:22.2px;font-size:38px;line-height:38px;letter-spacing:0.20px;">3B</span>
<span class="t " style="left:1033.5px;top:22.2px;font-size:38px;line-height:38px;letter-spacing:-2.20px;">HR</span>
<span class="t " style="left:1122.4px;top:22.2px;font-size:38px;line-height:38px;letter-spacing:-0.47px;">RBI</span>
<span class="t " style="left:1210.5px;top:22.2px;font-size:38px;line-height:38px;letter-spacing:0.00px;">R</span>
<span class="t " style="left:1299.4px;top:22.2px;font-size:38px;line-height:38px;letter-spacing:0.77px;">BB</span>
<span class="t " style="left:1387.8px;top:22.2px;font-size:38px;line-height:38px;letter-spacing:-0.82px;">HP</span>
<span class="t " style="left:1476.3px;top:22.2px;font-size:38px;line-height:38px;letter-spacing:0.00px;">K</span>
<span class="t " style="left:1566.8px;top:22.2px;font-size:38px;line-height:38px;letter-spacing:-0.64px;">AVG</span>
<span class="t " style="left:1653.6px;top:22.2px;font-size:38px;line-height:38px;letter-spacing:-1.84px;">OBP</span>
<span class="t " style="left:1743.7px;top:22.2px;font-size:38px;line-height:38px;letter-spacing:-2.31px;">SLG</span>
<span class="t " style="left:1830.4px;top:22.2px;font-size:38px;line-height:38px;letter-spacing:-2.09px;">OPS</span>
<span class="t " style="left:1920.2px;top:22.2px;font-size:38px;line-height:38px;letter-spacing:-2.01px;">SB</span>
</div>
</div>
<div class="white"><span class="t " style="left:20.5px;top:1364.9px;font-size:36.5px;line-height:36.5px;letter-spacing:1.38px;">Batting Stats 1 View - Position Filter: All Players - 25 Players found</span><span class="t " style="left:10.0px;top:1426.0px;font-size:37.5px;line-height:37.5px;letter-spacing:1.31px;">Tue, 10/12/2032</span><span class="t " style="left:9.9px;top:1473.9px;font-size:37.5px;line-height:37.5px;letter-spacing:-0.00px;">MLB PLAYOFFS</span></div>
<div class="rbtn" style="left:520px">
 <svg width="160" height="111" viewBox="0 0 160 111">
  <g fill="none" stroke="#fff" stroke-width="3.9" stroke-linejoin="round" stroke-linecap="round">
   <path d="M65.6 28.9 H88.6 L99.9 42 V71.4 Q99.9 76.4 94.9 76.4 H65.6 Q60.6 76.4 60.6 71.4 V33.9 Q60.6 28.9 65.6 28.9 Z"/>
   <path d="M87 30.5 V38 Q87 43.6 92.6 43.6 H98.5"/>
   <path d="M58.7 35.9 H56.5 Q51.5 35.9 51.5 40.9 V79.9 Q51.5 84.9 56.5 84.9 H85.4 Q90.4 84.9 90.4 79.9 V78.3"/>
   <path d="M70.4 55.4 H91 M70.4 64.4 H91"/>
  </g>
 </svg>
 <span class="t " style="left:160.9px;top:28.6px;font-size:52.5px;line-height:52.5px;transform:scaleX(0.8444);transform-origin:0 0;">VIEW</span>
</div>
<div class="rbtn" style="left:1031.8px">
 <svg width="160" height="111" viewBox="0 0 160 111">
  <g fill="none" stroke="#fff" stroke-width="4.2" stroke-linejoin="round" stroke-linecap="round">
   <path d="M65.5 62 V33 Q65.5 29 69.7 29 Q74 29 74 33 V52 M74 48.5 Q74 45 78 45 Q82 45 82 48.5 V54 M82 51.5 Q82 48 86 48 Q90 48 90 51.5 V57 M90 55 Q90 52 94 52 Q98.2 52 98.2 56 V64 Q98.2 70 95 78 L92.5 85 H70.5 L68 79 Q63 70 55.5 62 Q51.5 56.5 55.5 54.5 Q59 53 62 57 L65.5 62"/>
  </g>
 </svg>
 <span class="t " style="left:160.8px;top:28.4px;font-size:52.5px;line-height:52.5px;transform:scaleX(0.9059);transform-origin:0 0;">ACTION</span>
</div>
<div class="rbtn" style="left:1543.6px">
 <svg width="160" height="111" viewBox="0 0 160 111">
  <path d="M88.2 32.6 L64.6 55.2 L88.2 77.8" fill="none" stroke="#fff" stroke-width="5.2" stroke-linejoin="miter" stroke-linecap="butt"/>
 </svg>
 <span class="t " style="left:159.1px;top:26.2px;font-size:52.5px;line-height:52.5px;transform:scaleX(0.8959);transform-origin:0 0;">BACK</span>
</div>
</body>
</html>
